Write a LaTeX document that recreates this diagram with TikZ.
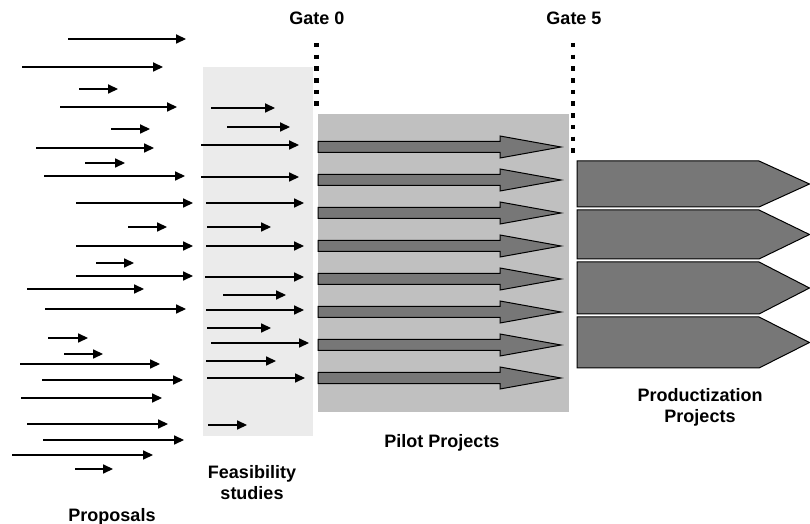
\documentclass[tikz,border=0pt]{standalone}
\usepackage{fontspec}
\setmainfont{Liberation Sans}
\usetikzlibrary{arrows.meta}
\definecolor{feasbg}{HTML}{EBEBEB}
\definecolor{pilotbg}{HTML}{C0C0C0}
\definecolor{projfill}{HTML}{777777}

\begin{document}
\begin{tikzpicture}[x=0.5pt,y=-0.5pt,
  ar/.style={-{Triangle[length=5pt,width=4.6pt]},line width=0.55pt},
  gate/.style={line width=2.25pt,dash pattern=on 2.25pt off 3.6pt},
  blk/.style={fill=projfill,draw=black,line width=0.5pt},
  lab/.style={font=\bfseries\fontsize{9}{10.5}\selectfont,align=center}]
  \useasboundingbox (0,0) rectangle (810,524);
  % stage backgrounds
  \fill[feasbg] (203,67) rectangle (313,436);
  \fill[pilotbg] (318,114) rectangle (569,412);
  % gates
  \node[lab] (g0) at (317,18) {Gate 0};
  \node[lab] (g5) at (574,18) {Gate 5};
  \draw[gate] (316.5,43) -- (316.5,106);
  \draw[gate] (573,43) -- (573,153);
  % proposals
  \foreach \a/\b/\y in {68/186/39,22/163/67,79/118/89,60/177/107,111/150/129,
    36/154/148,85/125/163,44/185/176,76/193/203,128/167/227,76/193/246,
    96/134/263,76/193/276,27/144/289,45/186/309,48/88/338,64/103/354,
    20/160/364,42/183/380,21/162/398,27/168/424,43/184/440,12/153/455,75/113/469}
    \draw[ar] (\a,\y) -- (\b,\y);
  % feasibility studies
  \foreach \a/\b/\y in {211/275/108,227/290/127,201/299/145,201/299/177,
    206/304/203,207/271/227,206/304/246,205/304/277,223/286/295,206/304/310,
    207/271/328,211/309/343,206/276/361,207/305/378,208/247/425}
    \draw[ar] (\a,\y) -- (\b,\y);
  % pilot projects
  \foreach \y in {147,180,213,246,279,312,345,378}
    \draw[blk] (318,\y-5.5) -- (500,\y-5.5) -- (500,\y-11) -- (561,\y)
      -- (500,\y+11) -- (500,\y+5.5) -- (318,\y+5.5) -- cycle;
  % productization projects
  \foreach \t/\b in {161/207,210/259,262/314,317/368}
    \draw[blk] (577,\t) -- (759,\t) -- (809.5,{(\t+\b)/2}) -- (759,\b)
      -- (577,\b) -- cycle;
  % stage labels
  \node[lab] (prop) at (112,517) {Proposals};
  \node[lab] (feas) at (252,482.5) {Feasibility\\studies};
  \node[lab] (pilot) at (442,443) {Pilot Projects};
  \node[lab] (prod) at (700,407.5) {Productization\\Projects};
\end{tikzpicture}
\end{document}
